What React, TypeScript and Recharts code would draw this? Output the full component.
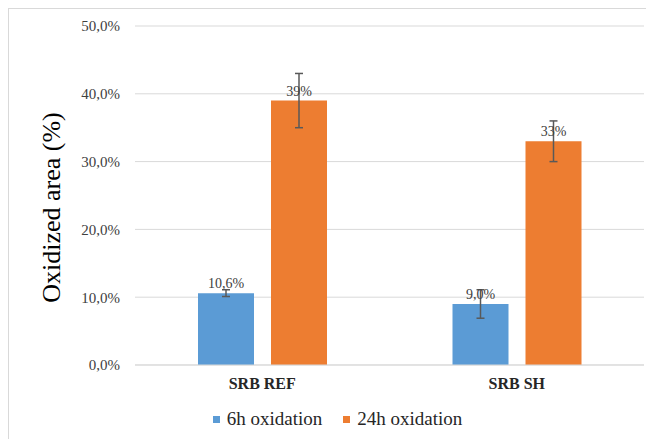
import { Bar, BarChart, CartesianGrid, ErrorBar, LabelList, Legend, XAxis, YAxis } from "recharts";

const categories = ["SRB REF", "SRB SH"];
const sixHour = [10.6, 9.0];
const sixHourErr = [0.5, 2.1];
const sixHourLabels = ["10,6%", "9,0%"];
const dayLong = [39, 33];
const dayLongErr = [4, 3];
const dayLongLabels = ["39%", "33%"];
const yTicks = [0, 10, 20, 30, 40, 50];

const BLUE = "#5b9bd5";
const ORANGE = "#ed7d31";
const FONT = "'Liberation Serif', 'Times New Roman', serif";

const data = categories.map((name, i) => ({
  name,
  six: sixHour[i],
  sixErr: sixHourErr[i],
  sixLabel: sixHourLabels[i],
  day: dayLong[i],
  dayErr: dayLongErr[i],
  dayLabel: dayLongLabels[i],
}));

const series = [
  { label: "6h oxidation", color: BLUE },
  { label: "24h oxidation", color: ORANGE },
];

function ChartLegend() {
  return (
    <div
      style={{
        display: "flex",
        justifyContent: "center",
        gap: 21,
        paddingTop: 13,
        paddingLeft: 22,
        fontFamily: FONT,
      }}
    >
      {series.map((s) => (
        <div key={s.label} style={{ display: "flex", alignItems: "center" }}>
          <span style={{ width: 7, height: 7, background: s.color, marginRight: 7, display: "inline-block" }} />
          <span style={{ fontSize: 19, color: "#262626" }}>{s.label}</span>
        </div>
      ))}
    </div>
  );
}

// y title, centred on the plot area
function YTitle({ viewBox }: any) {
  const y = viewBox.y + viewBox.height / 2 + 12;
  return (
    <text
      x={51}
      y={y}
      transform={`rotate(-90 51 ${y})`}
      textAnchor="middle"
      fontSize={26}
      fontFamily={FONT}
      fill="#000"
    >
      Oxidized area (%)
    </text>
  );
}

export default function App() {
  return (
    <div
      style={{
        width: 646,
        height: 431,
        borderTop: "1px solid #d9d9d9",
        borderLeft: "1px solid #d9d9d9",
        boxSizing: "border-box",
        background: "#fff",
      }}
    >
      <BarChart
        width={645}
        height={430}
        data={data}
        margin={{ top: 17, right: 10, bottom: 4, left: 0 }}
        barGap={17}
        barSize={56}
      >
        <CartesianGrid stroke="#d9d9d9" vertical={false} />
        <XAxis
          dataKey="name"
          height={30}
          tickSize={0}
          tickMargin={13}
          axisLine={{ stroke: "#d9d9d9" }}
          tick={{ fill: "#262626", fontSize: 16, fontWeight: "bold", fontFamily: FONT }}
        />
        <YAxis
          width={126}
          domain={[0, 50]}
          ticks={yTicks}
          axisLine={false}
          tickSize={0}
          tickMargin={15}
          tickFormatter={(v) => `${v.toFixed(1).replace(".", ",")}%`}
          tick={{ fill: "#404040", fontSize: 15, fontFamily: FONT }}
          label={{ content: YTitle }}
        />
        <Legend verticalAlign="bottom" height={40} content={() => <ChartLegend />} />
        <Bar dataKey="six" fill={BLUE} name="6h oxidation" isAnimationActive={false}>
          <LabelList dataKey="sixLabel" position="top" fill="#404040" fontSize={14} fontFamily={FONT} />
          <ErrorBar dataKey="sixErr" width={4} stroke="#595959" strokeWidth={1.5} direction="y" />
        </Bar>
        <Bar dataKey="day" fill={ORANGE} name="24h oxidation" isAnimationActive={false}>
          <LabelList dataKey="dayLabel" position="top" fill="#404040" fontSize={14} fontFamily={FONT} />
          <ErrorBar dataKey="dayErr" width={4} stroke="#595959" strokeWidth={1.5} direction="y" />
        </Bar>
      </BarChart>
    </div>
  );
}
